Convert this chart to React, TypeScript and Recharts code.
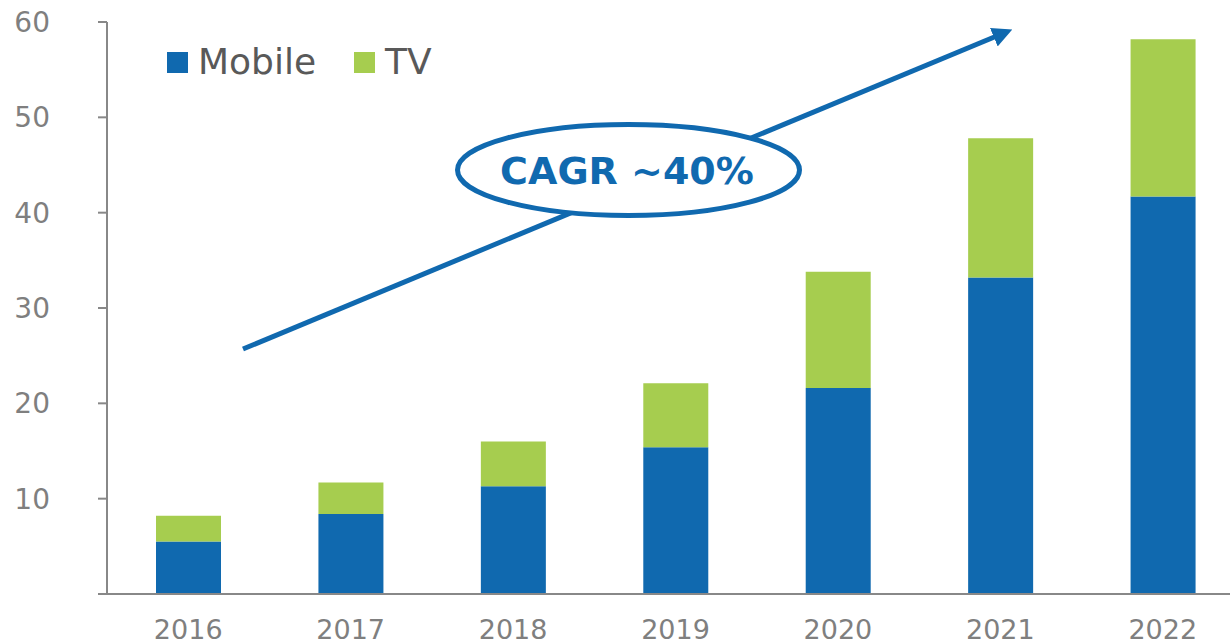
import React from 'react';
import { BarChart, Bar, XAxis, YAxis, Legend } from 'recharts';

const years = ['2016', '2017', '2018', '2019', '2020', '2021', '2022'];
const mobile = [5.5, 8.4, 11.3, 15.4, 21.6, 33.2, 41.7];
const tv = [2.7, 3.3, 4.7, 6.7, 12.2, 14.6, 16.5];
const yTicks = [0, 10, 20, 30, 40, 50, 60];
const seriesNames = ['Mobile', 'TV'];

const BLUE = '#1069AF';
const GREEN = '#A6CD4F';
const FONT = '"DejaVu Sans", Verdana, sans-serif';

const data = years.map((y, i) => ({ year: y, Mobile: mobile[i], TV: tv[i] }));

const LegendContent = () => (
  <div style={{ display: 'flex', alignItems: 'center', fontFamily: FONT, fontSize: 36, color: '#595959' }}>
    {seriesNames.map((n, i) => (
      <div key={n} style={{ display: 'flex', alignItems: 'center', marginRight: i === 0 ? 38 : 0 }}>
        <div style={{ width: 21, height: 21, background: i === 0 ? BLUE : GREEN, marginRight: 10 }} />
        <span style={{ lineHeight: '40px' }}>{n}</span>
      </div>
    ))}
  </div>
);

export default function App() {
  return (
    <div style={{ position: 'absolute', left: 0, top: 0, width: 1230, height: 644, overflow: 'hidden', background: '#fff' }}>
      <BarChart width={1244} height={644} data={data} margin={{ top: 22, right: 0, bottom: 0, left: 0 }} barSize={65}>
        <XAxis
          dataKey="year"
          height={50}
          axisLine={{ stroke: '#888', strokeWidth: 2 }}
          tickLine={false}
          tickSize={0}
          tickMargin={26}
          tick={{ fill: '#7F7F7F', fontSize: 27, fontFamily: FONT }}
          interval={0}
        />
        <YAxis
          width={107}
          domain={[0, 60]}
          ticks={yTicks}
          interval={0}
          axisLine={{ stroke: '#888', strokeWidth: 2 }}
          tickLine={{ stroke: '#888', strokeWidth: 2 }}
          tickSize={9}
          tickMargin={48}
          tickFormatter={(v: number) => (v === 0 ? '' : String(v))}
          tick={{ fill: '#7F7F7F', fontSize: 28, fontFamily: FONT }}
        />
        <Legend
          content={<LegendContent />}
          verticalAlign="middle"
          align="center"
          layout="horizontal"
          wrapperStyle={{ position: 'absolute', top: 42, left: 167, width: 'auto' }}
        />
        <Bar dataKey="Mobile" stackId="a" fill={BLUE} isAnimationActive={false} />
        <Bar dataKey="TV" stackId="a" fill={GREEN} isAnimationActive={false} />
      </BarChart>
      <svg width={1230} height={644} style={{ position: 'absolute', left: 0, top: 0, pointerEvents: 'none' }}>
        <defs>
          <marker id="arrowhead" markerWidth="4" markerHeight="4" refX="2.2" refY="2" orient="auto" markerUnits="strokeWidth">
            <path d="M0,0 L4,2 L0,4 Z" fill={BLUE} />
          </marker>
        </defs>
        <line x1={243} y1={349} x2={1004} y2={33} stroke={BLUE} strokeWidth={5} markerEnd="url(#arrowhead)" />
        <ellipse cx={628.5} cy={170} rx={171} ry={45.5} fill="#fff" stroke={BLUE} strokeWidth={5} />
        <text x={627} y={184} textAnchor="middle" fill={BLUE} fontFamily={FONT} fontWeight="bold" fontSize={38}>
          CAGR ~40%
        </text>
      </svg>
    </div>
  );
}
